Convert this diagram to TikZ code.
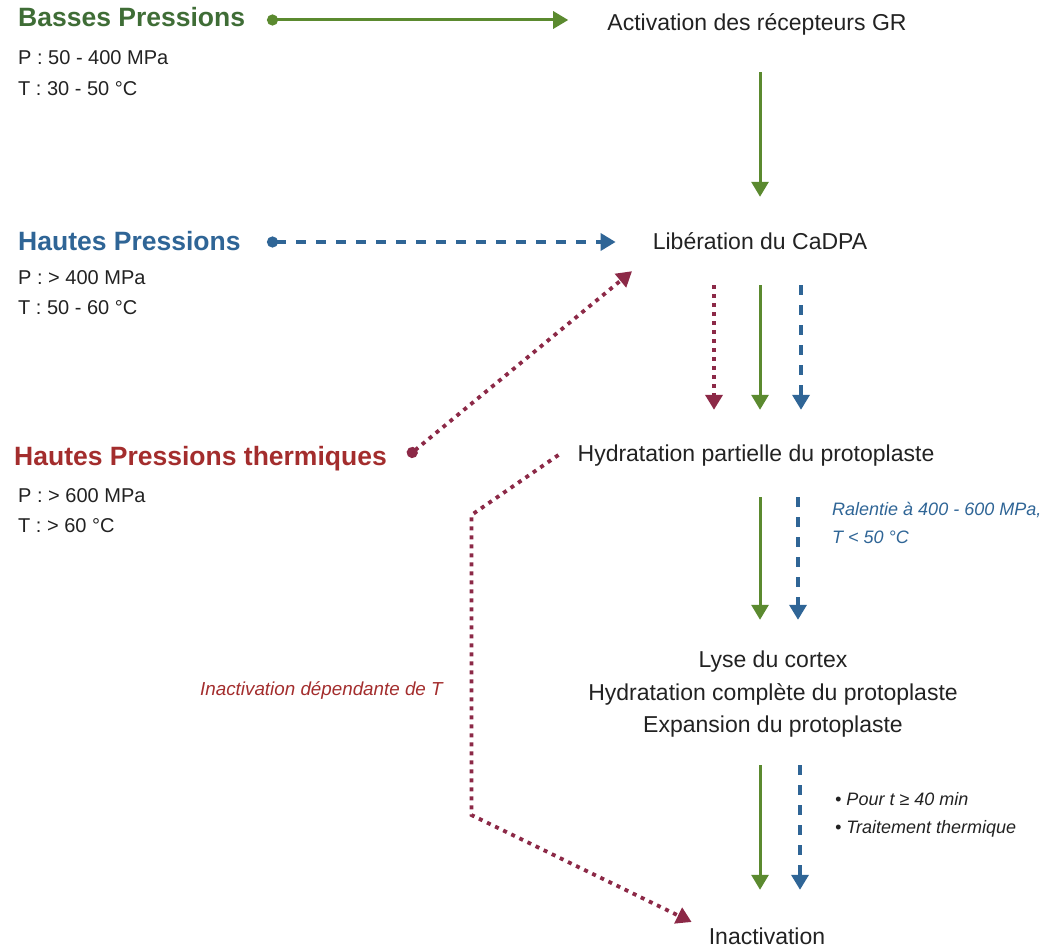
\documentclass[tikz,border=0pt]{standalone}
\usepackage{fontspec}
\setmainfont{Liberation Sans}
\usetikzlibrary{arrows.meta,calc}

\definecolor{bpgreen}{HTML}{3F6D36}
\definecolor{bparrow}{HTML}{5B8A2F}
\definecolor{hpblue}{HTML}{2F6596}
\definecolor{hptred}{HTML}{A32D2D}
\definecolor{hptarrow}{HTML}{8C2947}
\definecolor{txtgray}{HTML}{222222}

\begin{document}
\begin{tikzpicture}[x=1pt, y=-1pt,
  lbl/.style={inner sep=0pt, anchor=base, text height=17pt, text depth=5pt, text=txtgray, font=\fontsize{23}{27}\selectfont},
  ttl/.style={inner sep=0pt, anchor=base west, font=\fontsize{26.5}{30}\selectfont\bfseries},
  cond/.style={inner sep=0pt, anchor=base west, text=txtgray, font=\fontsize{20}{24}\selectfont},
  note/.style={inner sep=0pt, anchor=base west, font=\fontsize{18}{22}\selectfont\itshape},
  headtip/.style={-{Triangle[width=17pt,length=15pt]}},
  dottip/.style={{Circle[length=11pt]}-{Triangle[width=17pt,length=15pt]}},
  gline/.style={bparrow, line width=3pt, headtip},
  bline/.style={hpblue, line width=3.5pt, dash pattern=on 10pt off 10pt, headtip},
  rline/.style={hptarrow, line width=3.8pt, dash pattern=on 4pt off 5pt, headtip},
]
\useasboundingbox (0,0) rectangle (1046,949);

% conditions
\node[ttl, text=bpgreen] (bp) at (18,27) {Basses Pressions};
\node[cond] (bpP) at (18,65) {P : 50 - 400 MPa};
\node[cond] (bpT) at (18,96) {T : 30 - 50 °C};

\node[ttl, text=hpblue] (hp) at (18,251) {Hautes Pressions};
\node[cond] (hpP) at (18,285) {P : > 400 MPa};
\node[cond] (hpT) at (18,315) {T : 50 - 60 °C};

\node[ttl, text=hptred] (hpt) at (14,465) {Hautes Pressions thermiques};
\node[cond] (hptP) at (18,502) {P : > 600 MPa};
\node[cond] (hptT) at (18,532) {T : > 60 °C};

% steps
\node[lbl] (act) at (757,31) {Activation des récepteurs GR};
\node[lbl] (lib) at (760,250) {Libération du CaDPA};
\node[lbl] (hyd) at (756,461) {Hydratation partielle du protoplaste};
\node[lbl] (lys1) at (773,667) {Lyse du cortex};
\node[lbl] (lys2) at (773,700) {Hydratation complète du protoplaste};
\node[lbl] (lys3) at (773,732) {Expansion du protoplaste};
\node[lbl] (ina) at (767,944) {Inactivation};

\node[note, text=hpblue] (slow1) at (832,515) {Ralentie à 400 - 600 MPa,};
\node[note, text=hpblue] (slow2) at (832,543) {T < 50 °C};
\node[note, text=txtgray] (long1) at (835,805) {• Pour t ≥ 40 min};
\node[note, text=txtgray] (long2) at (835,833) {• Traitement thermique};
\node[note, text=hptred, font=\fontsize{18.8}{22}\selectfont\itshape] (tdep) at (200,695) {Inactivation dépendante de T};

\coordinate (bpdot) at (267,20);
\coordinate (hpdot) at (267,242);
\coordinate (hptdot) at (408,456);

\draw[gline, dottip, shorten >=39pt] (bpdot) -- (bpdot -| act.west);
\draw[bline, dottip, shorten >=37pt] (hpdot) -- (hpdot -| lib.west);
\draw[rline, dottip] (hptdot) -- ([xshift=-128pt, yshift=-16pt]lib.south);

\draw[gline, shorten <=36pt, shorten >=36pt] ([xshift=3pt]act.south) -- ([xshift=3pt]act.south |- lib.north);

\draw[rline, shorten <=30pt, shorten >=34pt] ([xshift=-46pt]lib.south) -- ([xshift=-46pt]lib.south |- hyd.north);
\draw[gline, shorten <=30pt, shorten >=34pt] (lib.south) -- (lib.south |- hyd.north);
\draw[bline, shorten <=30pt, shorten >=34pt] ([xshift=41pt]lib.south) -- ([xshift=41pt]lib.south |- hyd.north);

\draw[gline, shorten <=31pt, shorten >=30pt] ([xshift=4pt]hyd.south) -- ([xshift=4pt]hyd.south |- lys1.north);
\draw[bline, shorten <=31pt, shorten >=30pt] ([xshift=42pt]hyd.south) -- ([xshift=42pt]hyd.south |- lys1.north);

\draw[gline, shorten <=28pt, shorten >=37pt] ([xshift=-13pt]lys3.south) -- ([xshift=-13pt]lys3.south |- ina.north);
\draw[bline, shorten <=28pt, shorten >=37pt] ([xshift=27pt]lys3.south) -- ([xshift=27pt]lys3.south |- ina.north);

\draw[rline] ([xshift=-19pt]hyd.west) -- ++(-87,60) -- ++(0,300) -- ([xshift=-17pt, yshift=16pt]ina.west);
\end{tikzpicture}
\end{document}
